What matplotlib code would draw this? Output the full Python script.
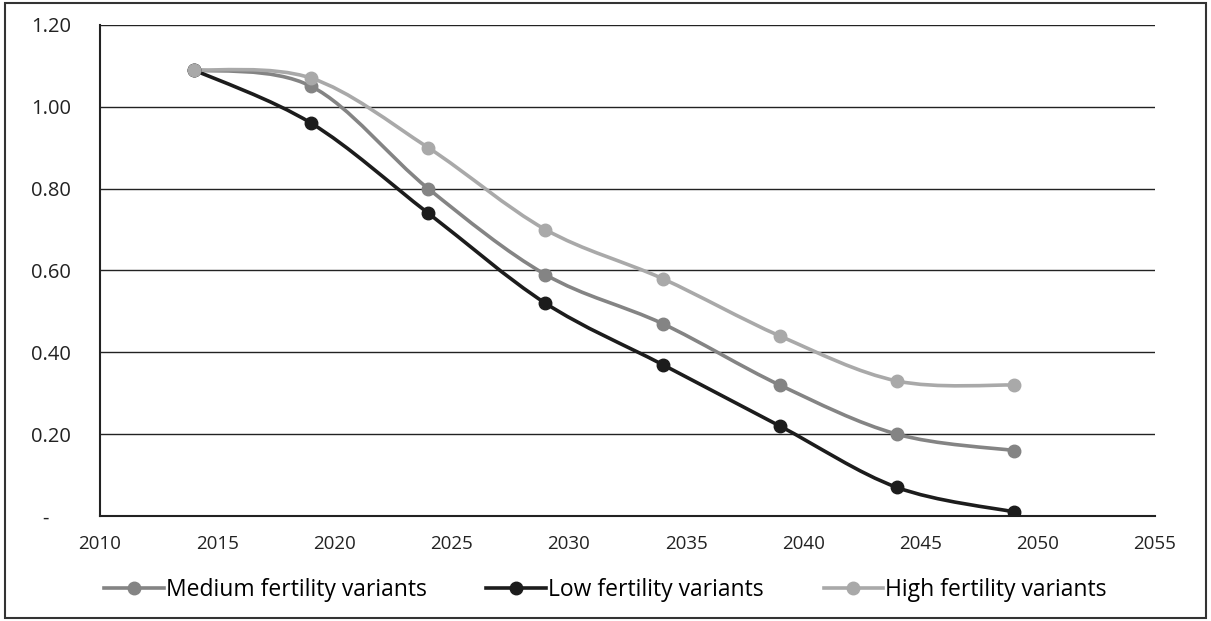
import numpy as np
import matplotlib
matplotlib.use("Agg")
import matplotlib.pyplot as plt
from matplotlib.path import Path
from matplotlib.patches import PathPatch, Rectangle
from matplotlib.lines import Line2D

plt.rcParams['font.family'] = ['Open Sans', 'DejaVu Sans']

years = [2014, 2019, 2024, 2029, 2034, 2039, 2044, 2049]
medium = [1.09, 1.05, 0.80, 0.59, 0.47, 0.32, 0.20, 0.16]
low = [1.09, 0.96, 0.74, 0.52, 0.37, 0.22, 0.07, 0.01]
high = [1.09, 1.07, 0.90, 0.70, 0.58, 0.44, 0.33, 0.32]

series = [
    ("Medium fertility variants", medium, "#848484"),
    ("Low fertility variants", low, "#1c1c1c"),
    ("High fertility variants", high, "#a9a9a9"),
]


def smooth_path(x, y, t=1/6):
    # excel-like smoothed line as cubic bezier segments
    x = np.asarray(x, float)
    y = np.asarray(y, float)
    verts = [(x[0], y[0])]
    codes = [Path.MOVETO]
    n = len(x)
    for i in range(n - 1):
        p0 = i - 1 if i > 0 else i
        p3 = i + 2 if i + 2 < n else i + 1
        c1 = (x[i] + (x[i + 1] - x[p0]) * t, y[i] + (y[i + 1] - y[p0]) * t)
        c2 = (x[i + 1] - (x[p3] - x[i]) * t, y[i + 1] - (y[p3] - y[i]) * t)
        verts += [c1, c2, (x[i + 1], y[i + 1])]
        codes += [Path.CURVE4] * 3
    return Path(verts, codes)


fig = plt.figure(figsize=(12.11, 6.21), dpi=100)
ax = fig.add_axes([0.0826, 0.169, 0.871, 0.791])

for name, vals, col in series:
    ax.add_patch(PathPatch(smooth_path(years, vals), fill=False, edgecolor=col,
                           lw=2.6, capstyle='round', zorder=3))
    ax.plot(years, vals, 'o', color=col, ms=9, zorder=4)

ax.set_xlim(2010, 2055)
ax.set_ylim(0, 1.2)
ax.set_xticks(range(2010, 2056, 5))
yt = [0, 0.2, 0.4, 0.6, 0.8, 1.0, 1.2]
ax.set_yticks(yt)
ax.set_yticklabels(["-    "] + ["%.2f" % v for v in yt[1:]])
ax.yaxis.grid(True, color='#222222', lw=1)
ax.set_axisbelow(True)
for s in ['top', 'right']:
    ax.spines[s].set_visible(False)
ax.spines['left'].set_color('#222222')
ax.spines['bottom'].set_color('#222222')
ax.spines['left'].set_linewidth(1.5)
ax.spines['bottom'].set_linewidth(1.5)
ax.tick_params(length=0, colors='#222222')
ax.tick_params(axis='x', pad=14, labelsize=13.5)
ax.tick_params(axis='y', pad=21, labelsize=14.5)

handles = [Line2D([0], [0], color=c, lw=2.6, marker='o', ms=9) for _, _, c in series]
fig.legend(handles, [n for n, _, _ in series], loc='center', bbox_to_anchor=(0.5, 0.05),
           ncol=3, frameon=False, fontsize=16.5, handlelength=2.6, handletextpad=0.1,
           columnspacing=2.6)

fig.patches.append(Rectangle((0.004, 0.005), 0.992, 0.99, transform=fig.transFigure,
                             fill=False, edgecolor='#333333', lw=1.5))

fig.savefig("out.png", dpi=100)
